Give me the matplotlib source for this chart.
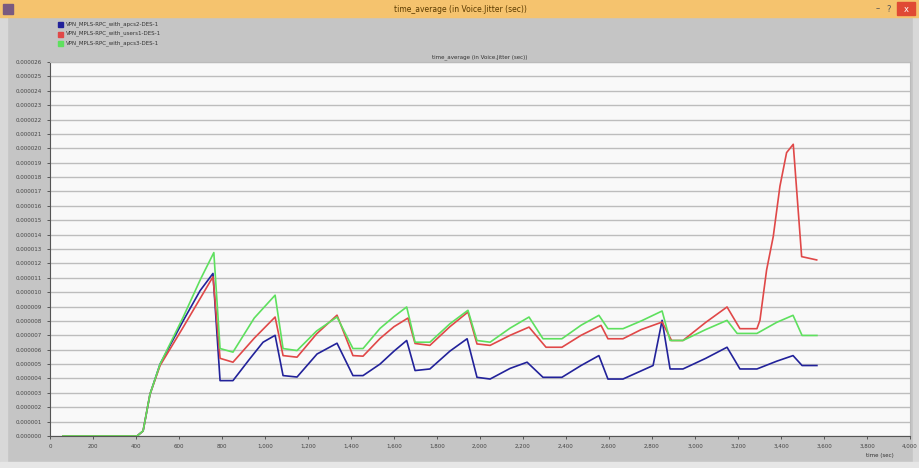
import matplotlib
matplotlib.use("Agg")
import matplotlib.pyplot as plt
from matplotlib.patches import Rectangle
from matplotlib.ticker import FuncFormatter, MultipleLocator

# ---- data (time in sec, jitter values in units of 1e-6 sec) ----
blue_x = [60, 405, 433, 465, 512, 619, 698, 758, 791, 851, 930, 991, 1047, 1084, 1149, 1242, 1335,
          1409, 1456, 1535, 1600, 1659, 1698, 1767, 1860, 1940, 1986, 2047, 2140, 2219, 2293, 2381,
          2470, 2553, 2595, 2665, 2805, 2847, 2884, 2944, 3050, 3149, 3209, 3288, 3380, 3456, 3498, 3567]
blue_y = [0, 0, 0.35, 2.9, 5.0, 8.0, 10.1, 11.3, 3.85, 3.85, 5.38, 6.52, 7.0, 4.2, 4.1, 5.7, 6.45,
          4.2, 4.2, 5.0, 5.9, 6.64, 4.55, 4.66, 5.9, 6.76, 4.08, 3.96, 4.7, 5.13, 4.08, 4.08,
          4.9, 5.59, 3.96, 3.96, 4.9, 8.04, 4.66, 4.66, 5.4, 6.17, 4.66, 4.66, 5.2, 5.59, 4.9, 4.9]

red_x = [60, 405, 433, 465, 512, 619, 700, 758, 791, 851, 950, 1047, 1084, 1149, 1240, 1335, 1409, 1456,
         1535, 1600, 1665, 1698, 1767, 1860, 1944, 1986, 2047, 2140, 2228, 2307, 2381, 2470, 2563,
         2595, 2665, 2750, 2847, 2891, 2944, 3050, 3149, 3209, 3288, 3302, 3333, 3364, 3395, 3426,
         3457, 3496, 3566]
red_y = [0, 0, 0.35, 2.9, 4.9, 7.55, 9.6, 11.07, 5.4, 5.13, 6.8, 8.27, 5.59, 5.48, 7.1, 8.4, 5.59, 5.55,
         6.78, 7.6, 8.2, 6.43, 6.3, 7.6, 8.62, 6.4, 6.3, 7.0, 7.57, 6.17, 6.17, 7.0, 7.69,
         6.76, 6.76, 7.4, 7.92, 6.64, 6.64, 7.9, 8.97, 7.46, 7.46, 8.04, 11.54, 13.87, 17.36, 19.7,
         20.28, 12.47, 12.24]

green_x = [60, 405, 433, 465, 512, 619, 700, 762, 791, 851, 950, 1047, 1084, 1149, 1240, 1335, 1409, 1456,
           1535, 1600, 1659, 1698, 1767, 1860, 1944, 1986, 2047, 2140, 2228, 2293, 2381, 2470, 2553,
           2595, 2665, 2750, 2847, 2884, 2944, 3050, 3149, 3196, 3288, 3380, 3456, 3498, 3567]
green_y = [0, 0, 0.35, 2.9, 5.0, 8.25, 10.9, 12.75, 6.08, 5.83, 8.2, 9.79, 6.08, 5.94, 7.3, 8.27, 6.08, 6.08,
           7.48, 8.3, 8.97, 6.52, 6.52, 7.8, 8.74, 6.64, 6.52, 7.5, 8.27, 6.76, 6.76, 7.7, 8.39,
           7.46, 7.46, 8.0, 8.69, 6.64, 6.64, 7.4, 8.04, 7.13, 7.13, 7.9, 8.39, 6.99, 6.99]

series_names = ["VPN_MPLS-RPC_with_apcs2-DES-1",
                "VPN_MPLS-RPC_with_users1-DES-1",
                "VPN_MPLS-RPC_with_apcs3-DES-1"]
series_colors = ["#22229a", "#e04848", "#5ee05e"]

title_text = "time_average (in Voice.Jitter (sec))"
x_ticks = list(range(0, 4001, 200))
y_step = 1e-6
y_max = 26e-6

W, H = 920, 468
fig = plt.figure(figsize=(W / 100, H / 100), dpi=100)
fig.patch.set_facecolor("#c5c5c5")

def fx(px):
    return px / W

def fy(py):
    return 1 - py / H

# window borders
fig.add_artist(Rectangle((0, 0), fx(7), 1, transform=fig.transFigure, color="#d8d8d8", zorder=0))
fig.add_artist(Rectangle((fx(913), 0), fx(7), 1, transform=fig.transFigure, color="#d8d8d8", zorder=0))
fig.add_artist(Rectangle((0, 0), 1, fy(462), transform=fig.transFigure, color="#e6e6e6", zorder=0))
# title bar
fig.add_artist(Rectangle((0, fy(17)), 1, 17 / H, transform=fig.transFigure, color="#f5c36e", zorder=1))
fig.add_artist(Rectangle((fx(3), fy(14)), fx(10), 10 / H, transform=fig.transFigure, color="#7a5a80", zorder=2))
fig.add_artist(Rectangle((fx(897), fy(15)), fx(18), 13 / H, transform=fig.transFigure, color="#e04a34", zorder=2))
fig.text(0.5, fy(9), title_text, ha="center", va="center", fontsize=5.5, color="#5a3a00")
fig.text(fx(878), fy(9), "–", ha="center", va="center", fontsize=6, color="#555555")
fig.text(fx(889), fy(9), "?", ha="center", va="center", fontsize=6, color="#555555")
fig.text(fx(906), fy(9), "x", ha="center", va="center", fontsize=6, color="white")

# legend
for i, (name, col) in enumerate(zip(series_names, series_colors)):
    y = 24 + i * 9.5
    fig.add_artist(Rectangle((fx(58), fy(y + 3)), fx(5), 5 / H, transform=fig.transFigure,
                             color=col, zorder=2))
    fig.text(fx(66), fy(y), name, ha="left", va="center", fontsize=4, color="#333333")

# subtitle
fig.text(fx(480), fy(57), title_text, ha="center", va="center", fontsize=4, color="#333333")

ax = fig.add_axes([fx(50), fy(436), fx(910) - fx(50), (436 - 62) / H])
ax.set_facecolor("#f9f9f9")
for x, y, c in zip([blue_x, red_x, green_x], [blue_y, red_y, green_y], series_colors):
    ax.plot(x, [v * 1e-6 for v in y], color=c, lw=1.2, zorder=3)

ax.set_xlim(0, 4000)
ax.set_ylim(0, y_max)
ax.set_xticks(x_ticks)
ax.xaxis.set_major_formatter(FuncFormatter(lambda v, p: f"{int(v):,}"))
ax.yaxis.set_major_locator(MultipleLocator(y_step))
ax.yaxis.set_major_formatter(FuncFormatter(lambda v, p: f"{v:.6f}"))
ax.tick_params(axis="both", labelsize=4, colors="#444444", length=2, width=0.6)
ax.grid(axis="y", color="#bdbdbd", lw=1.0)
for s in ["top", "right"]:
    ax.spines[s].set_color("#bbbbbb")
ax.spines["left"].set_color("#555555")
ax.spines["bottom"].set_color("#555555")
fig.text(fx(880), fy(455), "time (sec)", ha="center", va="center", fontsize=4, color="#333333")

fig.savefig("out.png", dpi=100, facecolor=fig.get_facecolor())
